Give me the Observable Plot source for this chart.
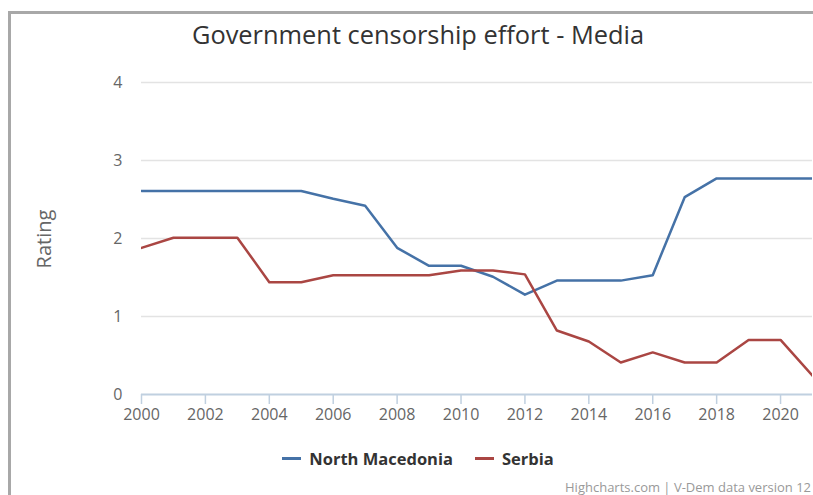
<!DOCTYPE html>
<html>
<head>
<meta charset="utf-8">
<script src="https://cdn.jsdelivr.net/npm/d3@7"></script>
<script src="https://cdn.jsdelivr.net/npm/@observablehq/plot@0.6"></script>
<style>
  html, body { margin: 0; padding: 0; background: #fff; }
  #wrap { position: relative; width: 813px; height: 495px; overflow: hidden; font-family: "Open Sans", sans-serif; }
  #frameL { position: absolute; left: 8px; top: 11px; width: 3px; height: 490px; background: #a8a8a8; }
  #frameT { position: absolute; left: 8px; top: 11px; width: 810px; height: 3px; background: #a8a8a8; }
  #title { position: absolute; left: 0; width: 836px; top: 17px; text-align: center; font-size: 25.4px; color: #333; }
  #ylab { position: absolute; left: 43px; top: 239px; transform: translate(-50%, -50%) rotate(-90deg); font-size: 20px; color: #666; white-space: nowrap; }
  #chart { position: absolute; left: 0; top: 60px; }
  #legend { position: absolute; left: 0; width: 836px; top: 447px; display: flex; justify-content: center; gap: 22px; font-size: 16.5px; font-weight: bold; color: #333; }
  #legend span.item { display: flex; align-items: center; }
  #legend span.sw { display: inline-block; width: 19px; height: 3px; margin-right: 8px; }
  #credit { position: absolute; right: 2px; top: 478px; font-size: 13px; color: #999; }
</style>
</head>
<body>
<div id="wrap">
  <div id="frameL"></div>
  <div id="frameT"></div>
  <div id="title">Government censorship effort - Media</div>
  <div id="ylab">Rating</div>
  <div id="chart"></div>
  <div id="legend"></div>
  <div id="credit">Highcharts.com | V-Dem data version 12</div>
</div>
<script>
const years = [2000,2001,2002,2003,2004,2005,2006,2007,2008,2009,2010,2011,2012,2013,2014,2015,2016,2017,2018,2019,2020,2021];
const northMacedonia = [2.61,2.61,2.61,2.61,2.61,2.61,2.51,2.42,1.88,1.65,1.65,1.51,1.28,1.46,1.46,1.46,1.53,2.53,2.77,2.77,2.77,2.77];
const serbia = [1.88,2.01,2.01,2.01,1.44,1.44,1.53,1.53,1.53,1.53,1.59,1.59,1.54,0.82,0.68,0.41,0.54,0.41,0.41,0.70,0.70,0.24];
const seriesNames = ["North Macedonia", "Serbia"];
const seriesColors = ["#4572A7", "#AA4643"];
const yTicks = [0,1,2,3,4];
const gridTicks = [1,2,3,4];
const xTicks = [2000,2002,2004,2006,2008,2010,2012,2014,2016,2018,2020];

const rows = [];
years.forEach((yr, i) => {
  rows.push({year: yr, value: northMacedonia[i], series: seriesNames[0]});
  rows.push({year: yr, value: serbia[i], series: seriesNames[1]});
});

const plot = Plot.plot({
  width: 813,
  height: 380,
  marginLeft: 141,
  marginRight: 1,
  marginTop: 22,
  marginBottom: 46,
  style: {fontFamily: "Open Sans, sans-serif", fontSize: "16px", color: "#666", background: "transparent", overflow: "visible"},
  x: {domain: [2000, 2021], label: null},
  y: {domain: [0, 4], label: null},
  color: {domain: seriesNames, range: seriesColors},
  marks: [
    Plot.ruleY(gridTicks, {stroke: "#e3e3e3", strokeWidth: 1.5}),
    Plot.axisY(yTicks, {tickSize: 0, tickPadding: 19, tickFormat: d => String(d), label: null, fill: "#666", fontSize: 16}),
    Plot.axisX(xTicks, {tickSize: 10, tickPadding: 4, tickFormat: d => String(d), label: null, stroke: "#C0D0E0", strokeWidth: 1.5, fill: "#666", fontSize: 16}),
    Plot.ruleY([0], {stroke: "#C0D0E0", strokeWidth: 2}),
    Plot.line(rows, {x: "year", y: "value", z: "series", stroke: "series", strokeWidth: 2.5, clip: true})
  ]
});
document.getElementById("chart").appendChild(plot);

const leg = document.getElementById("legend");
seriesNames.forEach((n, i) => {
  const item = document.createElement("span");
  item.className = "item";
  const sw = document.createElement("span");
  sw.className = "sw";
  sw.style.background = seriesColors[i];
  item.appendChild(sw);
  item.appendChild(document.createTextNode(n));
  leg.appendChild(item);
});
</script>
</body>
</html>
